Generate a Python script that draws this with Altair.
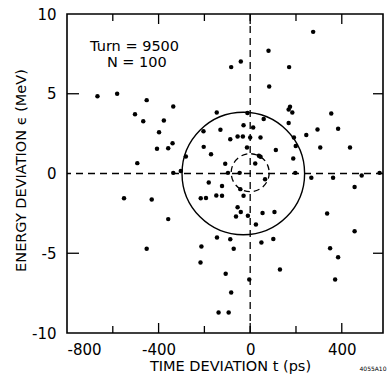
import altair as alt
import pandas as pd

# ---- data ----
t_ps = [275, 80, -41, -83, 170, 83, -667, -581, -452, -503,
        -467, -336, -377, -398, -407, -358, -339, -493, -336, -303,
        -281, -146, -12, -204, -130, -29, 13, 59, -87, -55,
        -32, 0, 45, -203, -171, -14, 112, -109, 22, 38,
        45, -97, -46, 65, -181, -123, -43, -29, -216, -193,
        -148, -123, -551, -430, -358, -55, -41, -62, -10, 54,
        106, 25, -145, -87, -72, -213, -452, 49, 101, -217,
        -107, 130, -4, -83, -138, -94, 168, 174, 184, 168,
        191, 199, 188, 197, 245, 294, 306, 354, 384, 436,
        267, 362, 487, 565, 456, 336, 456, 349, 384, 371]
e_mev = [8.88, 7.69, 7.02, 6.67, 6.67, 5.45, 4.85, 5.0, 4.6, 3.72,
         3.28, 4.2, 3.32, 2.59, 1.55, 1.59, 1.90, 0.65, 0.04, 0.15,
         1.07, 3.82, 3.80, 2.65, 2.74, 3.03, 2.88, 3.41, 2.15, 2.32,
         2.32, 2.26, 2.26, 1.67, 1.21, 1.63, 1.48, 0.61, 0.63, 1.11,
         1.05, 0.04, 0.04, -0.36, -0.56, -0.79, -0.98, -1.40, -1.55, -1.53,
         -1.38, -1.40, -1.55, -1.63, -2.86, -2.11, -2.42, -2.70, -2.65, -2.47,
         -2.42, -3.20, -4.01, -4.12, -4.72, -4.58, -4.72, -4.33, -4.10, -5.58,
         -6.29, -6.02, -6.65, -7.46, -8.71, -8.71, 4.01, 4.18, 3.82, 3.16,
         2.26, 1.73, 0.94, 0.04, 2.42, 2.76, 1.63, 3.76, 2.80, 1.63,
         -0.27, -0.27, -0.13, 0.04, -0.84, -2.51, -3.62, -4.68, -5.25, -6.65]

x_tick_labels = [-800, -400, 0, 400]
y_tick_labels = [-10, -5, 0, 5, 10]
x_major_ticks = [-400, 0, 400]
x_minor_ticks = [-600, -200, 200]
y_side_ticks = [-5, 5]

outer_circle_t = [-30]
outer_circle_e = [0]
inner_circle_t = [0]
inner_circle_e = [0.05]

ann_t = [-505, -495]
ann_e = [7.9, 6.95]
ann_txt = ["Turn = 9500", "N = 100"]

W, H = 316, 319
FONT = "DejaVu Sans"

xs = alt.Scale(domain=[-800, 580], nice=False, zero=False)
ys = alt.Scale(domain=[-10, 10], nice=False, zero=False)

pts = pd.DataFrame({"t": t_ps, "e": e_mev})

scatter = alt.Chart(pts).mark_circle(size=20, color="black", opacity=1).encode(
    x=alt.X("t:Q", scale=xs,
            axis=alt.Axis(values=x_tick_labels, title="TIME DEVIATION  t     (ps)",
                          labelExpr="datum.value", labelPadding=9, titlePadding=2,
                          labelFontSize=15, titleFontSize=14.5, labelFont=FONT,
                          titleFont=FONT, titleFontWeight="normal", titleX=163,
                          labelColor="black", titleColor="black")),
    y=alt.Y("e:Q", scale=ys,
            axis=alt.Axis(values=y_tick_labels, title="ENERGY DEVIATION  ϵ      (MeV)",
                          labelExpr="datum.value", labelPadding=11, titlePadding=3,
                          labelFontSize=15, titleFontSize=14.5, labelFont=FONT,
                          titleFont=FONT, titleFontWeight="normal", titleY=156,
                          labelColor="black", titleColor="black")),
)

vline = alt.Chart(pd.DataFrame({"t": [0]})).mark_rule(
    color="black", strokeDash=[7, 5], strokeWidth=1.3).encode(x=alt.X("t:Q", scale=xs))
hline = alt.Chart(pd.DataFrame({"e": [0]})).mark_rule(
    color="black", strokeDash=[7, 5], strokeWidth=1.3).encode(y=alt.Y("e:Q", scale=ys))

outer = alt.Chart(pd.DataFrame({"t": outer_circle_t, "e": outer_circle_e})).mark_point(
    shape="circle", filled=False, size=15030, color="black", opacity=1, strokeWidth=1.4
).encode(x=alt.X("t:Q", scale=xs), y=alt.Y("e:Q", scale=ys))

inner = alt.Chart(pd.DataFrame({"t": inner_circle_t, "e": inner_circle_e})).mark_point(
    shape="circle", filled=False, size=1444, color="black", opacity=1, strokeWidth=1.3,
    strokeDash=[6, 4]
).encode(x=alt.X("t:Q", scale=xs), y=alt.Y("e:Q", scale=ys))

def xticks(vals, length):
    df = pd.DataFrame({"t": vals})
    bot = alt.Chart(df).mark_rule(color="black", strokeWidth=1.3).encode(
        x=alt.X("t:Q", scale=xs), y=alt.value(H), y2=alt.value(H - length))
    top = alt.Chart(df).mark_rule(color="black", strokeWidth=1.3).encode(
        x=alt.X("t:Q", scale=xs), y=alt.value(0), y2=alt.value(length))
    return bot + top

df_y = pd.DataFrame({"e": y_side_ticks})
left_ticks = alt.Chart(df_y).mark_rule(color="black", strokeWidth=1.3).encode(
    y=alt.Y("e:Q", scale=ys), x=alt.value(0), x2=alt.value(12))
right_ticks = alt.Chart(df_y).mark_rule(color="black", strokeWidth=1.3).encode(
    y=alt.Y("e:Q", scale=ys), x=alt.value(W), x2=alt.value(W - 10))

ann = alt.Chart(pd.DataFrame({"t": ann_t, "e": ann_e, "txt": ann_txt})).mark_text(
    font=FONT, fontSize=14.5, color="black", align="center", baseline="middle"
).encode(x=alt.X("t:Q", scale=xs), y=alt.Y("e:Q", scale=ys), text="txt:N")

code = alt.Chart(pd.DataFrame({"txt": ["4055A10"]})).mark_text(
    font=FONT, fontSize=6, color="black", align="center", baseline="middle"
).encode(x=alt.value(306), y=alt.value(355), text="txt:N")

chart = alt.layer(
    vline, hline, outer, inner,
    xticks(x_major_ticks, 10), xticks(x_minor_ticks, 7),
    left_ticks, right_ticks, scatter, ann, code
).properties(
    width=W, height=H,
    autosize=alt.AutoSizeParams(type="none"),
    padding={"left": 67, "top": 14, "right": 5, "bottom": 44},
    background="white",
).configure_view(
    stroke="black", strokeWidth=1.6
).configure_axis(
    domain=False, ticks=False, grid=False
)

chart.save("out.html", embed_options={"renderer": "svg", "actions": False})
